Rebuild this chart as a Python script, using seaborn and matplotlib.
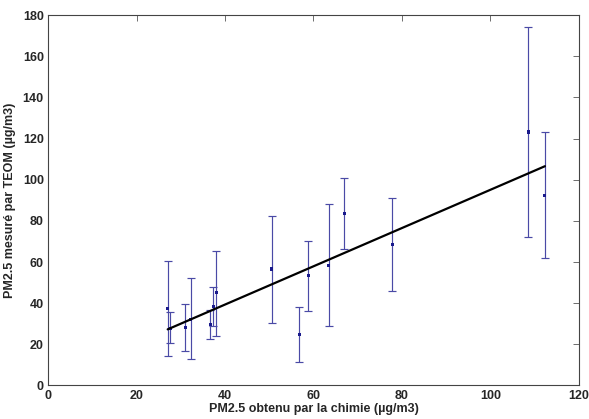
import numpy as np
import pandas as pd
import seaborn as sb
import matplotlib
matplotlib.use('Agg')
import matplotlib.pyplot as plt

# PM2.5 chimie (x) vs TEOM (y) with min/max bars
chimie = [27.05, 27.6, 31.0, 32.3, 36.7, 37.4, 38.0, 50.6, 56.8, 58.8, 63.4, 67.0, 77.8, 108.5, 112.3]
teom = [37.4, 27.6, 28.1, 32.2, 29.8, 38.2, 45.0, 56.6, 24.9, 53.5, 58.2, 83.7, 68.4, 123.2, 92.5]
teom_min = [14.3, 20.8, 16.6, 12.7, 22.6, 28.8, 24.2, 30.4, 11.5, 36.4, 28.8, 66.3, 45.7, 72.0, 61.8]
teom_max = [60.5, 35.6, 39.8, 52.3, 36.9, 48.0, 65.5, 82.6, 38.0, 70.2, 88.0, 100.8, 90.9, 174.0, 123.4]

data = pd.DataFrame({'chimie': chimie, 'teom': teom, 'lo': teom_min, 'hi': teom_max})

# linear fit
slope, intercept = np.polyfit(data['chimie'], data['teom'], 1)
fit = pd.DataFrame({'x': [data['chimie'].min(), data['chimie'].max()]})
fit['y'] = intercept + slope * fit['x']

sb.set_style('white')
plt.rcParams['font.family'] = ['Liberation Sans', 'DejaVu Sans']
plt.rcParams['font.weight'] = 'bold'

fig = plt.figure(figsize=(5.89, 4.19), dpi=100)
ax = fig.add_axes([0.0815, 0.080, 0.9015, 0.884])

blue = '#4a4aa6'
ax.errorbar(data['chimie'], data['teom'],
            yerr=[data['teom'] - data['lo'], data['hi'] - data['teom']],
            fmt='none', ecolor=blue, elinewidth=0.85, capsize=3, capthick=0.85)
sb.scatterplot(x='chimie', y='teom', data=data, ax=ax, color='#1a1a8c', s=5,
               marker='s', edgecolor='none', zorder=3)
sb.lineplot(x='x', y='y', data=fit, ax=ax, color='black', linewidth=1.6, zorder=4)

ax.set_xlim(0, 120)
ax.set_ylim(0, 180)
ax.set_xticks(range(0, 121, 20))
ax.set_yticks(range(0, 181, 20))
ax.tick_params(direction='in', top=True, right=True, length=4, width=0.6,
               labelsize=9, pad=3, color='#555555')
for lab in ax.get_xticklabels() + ax.get_yticklabels():
    lab.set_fontweight('bold')
for s in ax.spines.values():
    s.set_visible(True)
    s.set_color('#444444')
    s.set_linewidth(0.8)
ax.set_xlabel('PM2.5 obtenu par la chimie (µg/m3)', fontsize=9, fontweight='bold', labelpad=1)
ax.set_ylabel('PM2.5 mesuré par TEOM (µg/m3)', fontsize=9, fontweight='bold', labelpad=5)

plt.savefig('out.png', dpi=100)
